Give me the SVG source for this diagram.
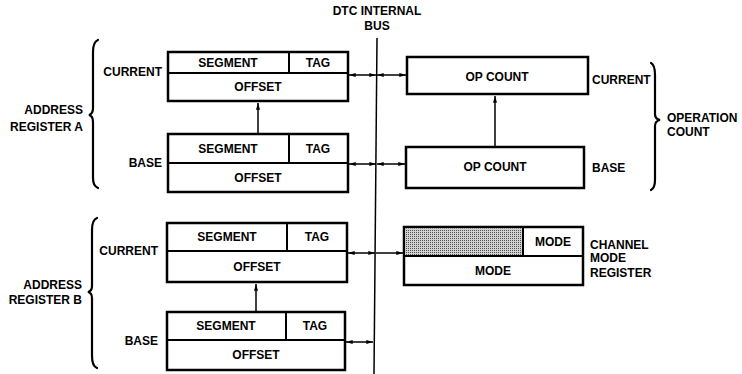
<svg xmlns="http://www.w3.org/2000/svg" width="742" height="374" viewBox="0 0 742 374">
<style>
text{font-family:"Liberation Sans",Arial,sans-serif;font-weight:bold;font-size:12px;fill:#000}
.c{text-anchor:middle}
.r{text-anchor:end}
.box{fill:#fff;stroke:#000;stroke-width:2.5}
.div{stroke:#000;stroke-width:2;fill:none}
.ln{stroke:#000;stroke-width:1.5;fill:none}
.br{stroke:#000;stroke-width:2.2;fill:none;stroke-linecap:round}
.dbl{marker-start:url(#ah);marker-end:url(#ah)}
.one{marker-end:url(#ah)}
</style>
<defs>
<marker id="ah" viewBox="0 0 10 6" refX="10" refY="3" markerWidth="7" markerHeight="4" markerUnits="userSpaceOnUse" orient="auto-start-reverse">
<path d="M0,0 L10,3 L0,6 z" fill="#000"/>
</marker>
<pattern id="dots" width="2" height="2" patternUnits="userSpaceOnUse">
<rect width="2" height="2" fill="#d0d0d0"/>
<rect width="1" height="1" fill="#555"/>
</pattern>
</defs>

<g id="bus">
<line class="ln" x1="377" y1="38" x2="374" y2="374"/>
<text class="c" x="377" y="15">DTC INTERNAL</text>
<text class="c" x="377" y="30">BUS</text>
</g>

<g id="addrA">
<path class="br" d="M98,40 Q93,42 93,52 L93,108 Q93,114 89,115 Q93,116 93,122 L93,178 Q93,186 98,188"/>
<text class="r" x="83" y="114">ADDRESS</text>
<text class="r" x="83" y="131">REGISTER A</text>
</g>
<g id="addrA-current">
<rect class="box" x="168" y="52" width="180" height="49"/>
<line class="div" x1="168" y1="73" x2="348" y2="73"/>
<line class="div" x1="289" y1="52" x2="289" y2="73"/>
<text class="c" x="228" y="67">SEGMENT</text>
<text class="c" x="318" y="67">TAG</text>
<text class="c" x="258" y="91">OFFSET</text>
<text class="r" x="162" y="76">CURRENT</text>
</g>
<g id="addrA-base">
<rect class="box" x="168" y="134" width="180" height="58"/>
<line class="div" x1="168" y1="163" x2="348" y2="163"/>
<line class="div" x1="289" y1="134" x2="289" y2="163"/>
<text class="c" x="228" y="153">SEGMENT</text>
<text class="c" x="318" y="153">TAG</text>
<text class="c" x="258" y="182">OFFSET</text>
<text class="r" x="162" y="167">BASE</text>
</g>

<g id="opcount">
<path class="br" d="M651,63 Q655,65 655,75 L655,114 Q655,119 660,120 Q655,121 655,126 L655,180 Q655,188 651,190"/>
<text x="667" y="122">OPERATION</text>
<text x="667" y="136">COUNT</text>
</g>
<g id="opcount-current">
<rect class="box" x="407" y="57" width="181" height="37"/>
<text class="c" x="497" y="81">OP COUNT</text>
<text x="592" y="84">CURRENT</text>
</g>
<g id="opcount-base">
<rect class="box" x="406" y="147" width="178" height="41"/>
<text class="c" x="495" y="171">OP COUNT</text>
<text x="592" y="172">BASE</text>
</g>

<g id="addrB">
<path class="br" d="M97,218 Q92,220 92,230 L92,286 Q92,291 88,292 Q92,293 92,298 L92,356 Q92,366 97,368"/>
<text class="r" x="82" y="289">ADDRESS</text>
<text class="r" x="82" y="304">REGISTER B</text>
</g>
<g id="addrB-current">
<rect class="box" x="167" y="223" width="180" height="59"/>
<line class="div" x1="167" y1="251" x2="347" y2="251"/>
<line class="div" x1="287" y1="223" x2="287" y2="251"/>
<text class="c" x="227" y="241">SEGMENT</text>
<text class="c" x="317" y="241">TAG</text>
<text class="c" x="257" y="271">OFFSET</text>
<text class="r" x="158" y="255">CURRENT</text>
</g>
<g id="addrB-base">
<rect class="box" x="167" y="312" width="178" height="58"/>
<line class="div" x1="167" y1="340" x2="345" y2="340"/>
<line class="div" x1="286" y1="312" x2="286" y2="340"/>
<text class="c" x="226" y="330">SEGMENT</text>
<text class="c" x="315" y="330">TAG</text>
<text class="c" x="256" y="359">OFFSET</text>
<text class="r" x="158" y="345">BASE</text>
</g>

<g id="channel-mode">
<rect class="box" x="404" y="227" width="179" height="58"/>
<rect x="405.5" y="228.5" width="117.5" height="27" fill="url(#dots)"/>
<line class="div" x1="404" y1="256" x2="583" y2="256"/>
<line class="div" x1="523" y1="227" x2="523" y2="256"/>
<text class="c" x="553" y="246">MODE</text>
<text class="c" x="493" y="275">MODE</text>
<text x="590" y="249">CHANNEL</text>
<text x="590" y="262">MODE</text>
<text x="590" y="277">REGISTER</text>
</g>

<g id="connectors">
<line class="ln dbl" x1="349" y1="75" x2="376" y2="75"/>
<line class="ln dbl" x1="377" y1="75" x2="406" y2="75"/>
<line class="ln dbl" x1="349" y1="164" x2="376" y2="164"/>
<line class="ln dbl" x1="377" y1="164" x2="405" y2="164"/>
<line class="ln dbl" x1="348" y1="253" x2="375" y2="253"/>
<line class="ln one" x1="376" y1="253" x2="403" y2="253"/>
<line class="ln dbl" x1="346" y1="342" x2="373" y2="342"/>
<line class="ln one" x1="258" y1="133" x2="258" y2="103"/>
<line class="ln one" x1="495" y1="146" x2="495" y2="96"/>
<line class="ln one" x1="256" y1="311" x2="256" y2="284"/>
</g>
</svg>
